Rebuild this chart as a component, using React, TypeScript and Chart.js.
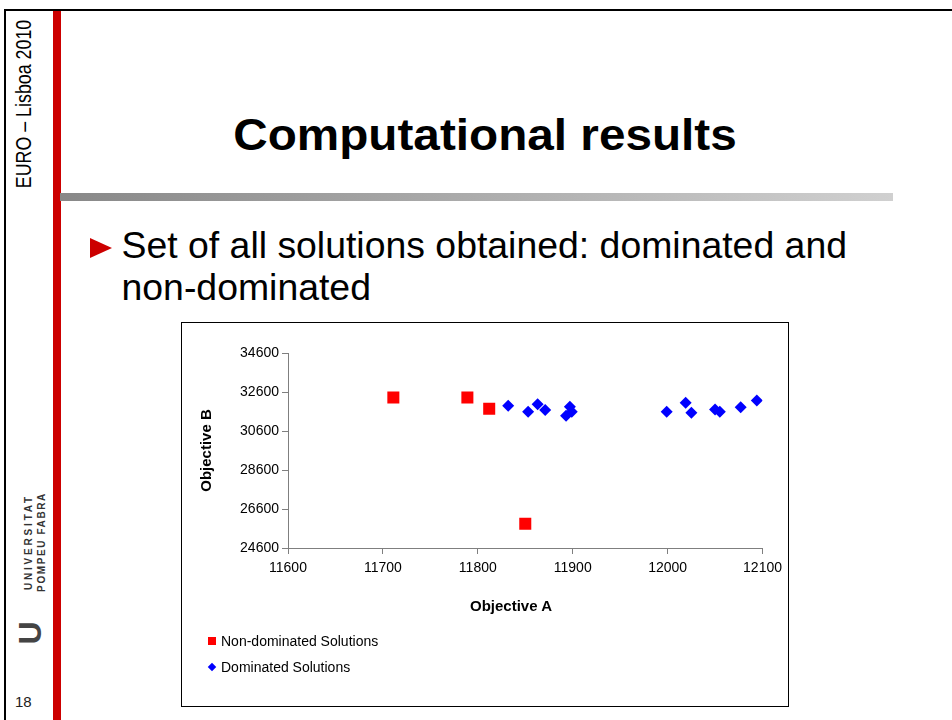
import React, { useEffect, useRef } from "react";
import { Chart, registerables } from "chart.js";

Chart.register(...registerables);

// ---- data ----
const seriesNames = ["Non-dominated Solutions", "Dominated Solutions"];
const nonDominatedA = [11711, 11789, 11812, 11850];
const nonDominatedB = [32320, 32320, 31737, 25842];
const dominatedA = [11832, 11853, 11863, 11871, 11897, 11899, 11893, 11999, 12019, 12025, 12050, 12055, 12077, 12094];
const dominatedB = [31890, 31584, 31977, 31671, 31839, 31584, 31379, 31584, 32044, 31533, 31706, 31584, 31824, 32166];
const xTicks = [11600, 11700, 11800, 11900, 12000, 12100];
const yTicks = [24600, 26600, 28600, 30600, 32600, 34600];
const xTitle = "Objective A";
const yTitle = "Objective B";

const FONT = "'Liberation Sans', Arial, Helvetica, sans-serif";
const RED = "#FF0000";
const BLUE = "#0000FF";
const AXIS = "#7f7f7f";

function ScatterChart() {
  const ref = useRef<HTMLCanvasElement | null>(null);
  useEffect(() => {
    if (!ref.current) return;
    const toPts = (xs: number[], ys: number[]) => xs.map((x, i) => ({ x, y: ys[i] }));
    const chart = new Chart(ref.current, {
      type: "scatter",
      data: {
        datasets: [
          {
            label: seriesNames[0],
            data: toPts(nonDominatedA, nonDominatedB),
            pointStyle: "rect",
            pointRadius: 8.5,
            pointHoverRadius: 8.5,
            backgroundColor: RED,
            borderColor: RED,
            borderWidth: 0,
          },
          {
            label: seriesNames[1],
            data: toPts(dominatedA, dominatedB),
            pointStyle: "rectRot",
            pointRadius: 6,
            pointHoverRadius: 6,
            backgroundColor: BLUE,
            borderColor: BLUE,
            borderWidth: 0,
          },
        ],
      },
      options: {
        responsive: false,
        animation: false,
        layout: { padding: { left: 0, top: 30, right: 23, bottom: 88 } },
        plugins: { legend: { display: false }, tooltip: { enabled: false } },
        scales: {
          x: {
            type: "linear",
            min: xTicks[0],
            max: xTicks[xTicks.length - 1],
            afterBuildTicks: (s: any) => {
              s.ticks = xTicks.map((v) => ({ value: v }));
            },
            afterFit: (s: any) => {
              s.height = 70;
            },
            ticks: {
              color: "#000",
              font: { family: FONT, size: 14 },
              padding: 6,
              maxRotation: 0,
              callback: (v: any) => String(v),
            },
            grid: { drawOnChartArea: false, drawTicks: true, tickLength: 6, color: AXIS },
            border: { color: AXIS, width: 1 },
            title: { display: false, text: xTitle },
          },
          y: {
            type: "linear",
            min: yTicks[0],
            max: yTicks[yTicks.length - 1],
            afterBuildTicks: (s: any) => {
              s.ticks = yTicks.map((v) => ({ value: v }));
            },
            afterFit: (s: any) => {
              s.width = 106;
            },
            ticks: {
              color: "#000",
              font: { family: FONT, size: 14 },
              padding: 3,
              callback: (v: any) => String(v),
            },
            grid: { drawOnChartArea: false, drawTicks: true, tickLength: 6, color: AXIS },
            border: { color: AXIS, width: 1 },
            title: {
              display: true,
              text: yTitle,
              color: "#000",
              font: { family: FONT, size: 15, weight: "bold" },
              padding: { top: 16, bottom: 0 },
            },
          },
        },
      },
    } as any);
    return () => chart.destroy();
  }, []);
  return (
    <canvas
      ref={ref}
      width={606}
      height={383}
      style={{ position: "absolute", left: 0, top: 0, width: 606, height: 383 }}
    />
  );
}

const abs = (o: React.CSSProperties): React.CSSProperties => ({ position: "absolute", ...o });

export default function App() {
  useEffect(() => {
    document.body.style.margin = "0";
  }, []);
  return (
    <div
      style={{
        position: "fixed",
        left: 0,
        top: 0,
        width: 952,
        height: 720,
        background: "#fff",
        overflow: "hidden",
        fontFamily: FONT,
        color: "#000",
      }}
    >
      {/* frame lines */}
      <div style={abs({ left: 4, top: 9, width: 948, height: 2, background: "#000" })} />
      <div style={abs({ left: 4, top: 9, width: 2, height: 711, background: "#000" })} />
      {/* red vertical bar */}
      <div style={abs({ left: 53, top: 11, width: 8, height: 709, background: "#CC0000" })} />
      {/* side label */}
      <div
        style={abs({
          left: 23.7,
          top: 104,
          transform: "translate(-50%, -50%) rotate(-90deg) scaleX(0.81)",
          fontSize: 22,
          lineHeight: "22px",
          whiteSpace: "nowrap",
          color: "#000",
        })}
      >
        EURO – Lisboa 2010
      </div>
      {/* logo */}
      <div
        style={abs({
          left: 28.5,
          top: 542,
          transform: "translate(-50%, -50%) rotate(-90deg)",
          fontSize: 10,
          lineHeight: "10px",
          fontWeight: "bold",
          letterSpacing: "2.8px",
          whiteSpace: "nowrap",
          color: "#333",
        })}
      >
        UNIVERSITAT
      </div>
      <div
        style={abs({
          left: 41.5,
          top: 542,
          transform: "translate(-50%, -50%) rotate(-90deg)",
          fontSize: 10,
          lineHeight: "10px",
          fontWeight: "bold",
          letterSpacing: "1.6px",
          whiteSpace: "nowrap",
          color: "#333",
        })}
      >
        POMPEU FABRA
      </div>
      <div
        style={abs({
          left: 30,
          top: 633,
          transform: "translate(-50%, -50%) rotate(-90deg)",
          fontSize: 32,
          lineHeight: "32px",
          fontWeight: "bold",
          whiteSpace: "nowrap",
          color: "#444",
        })}
      >
        U
      </div>
      <div style={abs({ left: 15, top: 693, fontSize: 15, lineHeight: "17px", color: "#222" })}>18</div>

      {/* title */}
      <div
        style={abs({
          left: 0,
          width: 970,
          top: 112,
          textAlign: "center",
          fontSize: 45,
          lineHeight: "45px",
          fontWeight: "bold",
          whiteSpace: "nowrap",
          transform: "scaleX(1.06)",
        })}
      >
        Computational results
      </div>
      {/* gray gradient rule */}
      <div
        style={abs({
          left: 60,
          top: 193,
          width: 833,
          height: 8,
          background: "linear-gradient(to right, #888888, #d0d0d0)",
        })}
      />
      {/* bullet */}
      <div
        style={abs({
          left: 90,
          top: 238,
          width: 0,
          height: 0,
          borderTop: "10px solid transparent",
          borderBottom: "10px solid transparent",
          borderLeft: "22px solid #CC0000",
        })}
      />
      <div
        style={abs({
          left: 121.5,
          top: 225.4,
          fontSize: 37.4,
          lineHeight: "41.7px",
          whiteSpace: "nowrap",
        })}
      >
        Set of all solutions obtained: dominated and
        <br />
        non-dominated
      </div>

      {/* chart box */}
      <div
        style={abs({
          left: 181,
          top: 322,
          width: 608,
          height: 385,
          border: "1px solid #000",
          boxSizing: "border-box",
          background: "#fff",
        })}
      >
        <ScatterChart />
        {/* x axis title */}
        <div
          style={abs({
            left: 329,
            top: 282.7,
            transform: "translate(-50%, -50%)",
            fontSize: 15,
            lineHeight: "18px",
            fontWeight: "bold",
            whiteSpace: "nowrap",
          })}
        >
          {xTitle}
        </div>
        {/* legend */}
        <div style={abs({ left: 26, top: 314, width: 8, height: 8, background: RED })} />
        <div style={abs({ left: 39, top: 309, fontSize: 14, lineHeight: "18px", whiteSpace: "nowrap" })}>
          {seriesNames[0]}
        </div>
        <div
          style={abs({
            left: 27,
            top: 340.5,
            width: 6,
            height: 6,
            background: BLUE,
            transform: "rotate(45deg)",
          })}
        />
        <div style={abs({ left: 39, top: 335, fontSize: 14, lineHeight: "18px", whiteSpace: "nowrap" })}>
          {seriesNames[1]}
        </div>
      </div>
    </div>
  );
}
